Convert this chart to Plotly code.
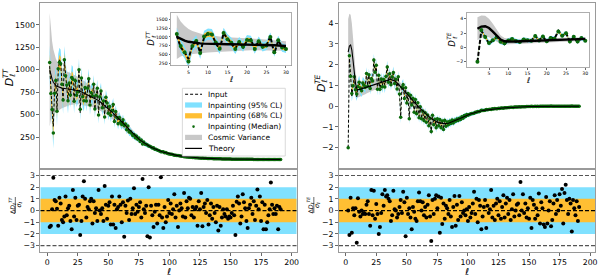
import plotly.graph_objects as go

W, H = 603, 277
FONT = "DejaVu Sans"
CYAN = "#80E1FF"
ORANGE = "#FFBF33"
GRAY = "#C8C8C8"
GREEN = "#0B6A0B"
SPINE = "#9A9A9A"

# ---------------- data ----------------
# TT theory, l = 2..191
tt_theory = [1000, 940, 895, 860, 840, 825, 815, 808, 802, 798,
             795, 793, 791, 789, 788, 787, 786, 785, 784, 783,
             781, 778, 775, 771, 766, 760, 753, 746, 739, 733,
             727, 721, 715, 709, 703, 697, 691, 684, 676, 667,
             657, 646, 635, 624, 613, 602, 591, 580, 568, 556,
             543, 530, 516, 502, 488, 474, 460, 446, 432, 417,
             402, 387, 372, 357, 342, 327, 313, 299, 286, 273,
             261, 249, 238, 227, 216, 206, 196, 187, 178, 169,
             161, 153, 145, 138, 131, 124, 118, 112, 106, 101,
             96, 91, 86, 82, 78, 74, 70, 66, 63,
             60, 57, 54, 51, 48, 46, 43, 41, 39, 37, 35, 33, 31.5, 30, 28.5, 27, 25.5, 24, 23, 22,
             21, 20, 19, 18, 17, 16.2, 15.4, 14.6, 13.9, 13.2, 12.5, 11.9, 11.3, 10.7, 10.1, 9.6, 9.1, 8.6, 8.2, 7.8,
             7.4, 7, 6.6, 6.3, 6, 5.7, 5.4, 5.1, 4.8, 4.6, 4.3, 4.1, 3.9, 3.7, 3.5, 3.3, 3.1, 2.9, 2.8, 2.6,
             2.5, 2.3, 2.2, 2.1, 2, 1.9, 1.8, 1.7, 1.6, 1.5, 1.4, 1.35, 1.3, 1.25, 1.2, 1.15, 1.1, 1.05, 1,
             0.95, 0.9, 0.86, 0.82, 0.78, 0.75, 0.72, 0.69, 0.66, 0.63, 0.6, 0.58]

# TT input, l = 2..100 (beyond that it sits on the theory curve)
tt_input_low = [1040, 700, 560, 370, 760, 900, 540, 980, 1110, 1080,
                820, 640, 1100, 960, 820, 660, 860, 700, 880, 930,
                640, 900, 700, 760, 1010, 520, 890, 720, 700, 820,
                640, 800, 900, 620, 760, 690, 850, 560, 720, 780,
                520, 700, 760, 580, 640, 500, 700, 620, 520, 600,
                480, 560, 600, 430, 520, 470, 400, 480, 420, 380,
                450, 360, 400, 330, 380, 300, 320, 290, 270, 290,
                240, 265, 225, 240, 205, 215, 185, 195, 170, 172,
                155, 158, 140, 142, 126, 128, 114, 115, 103, 102,
                94, 92, 84, 83, 76, 75, 69, 66, 62]

# TT inpainting 1-sigma
tt_sigma = [95, 92, 90, 88, 86, 85, 84, 82, 80, 79,
            78, 77, 76, 75, 74, 73, 72, 71, 70, 69,
            68, 67, 66, 65, 64, 63, 62, 61, 60, 59,
            58, 57, 56, 55, 54, 53, 52, 51, 50, 49,
            48, 47, 46, 45, 44, 43, 42, 41, 40, 39,
            38, 37, 36, 35, 34, 33, 32, 31, 30, 29,
            28, 27, 26, 25, 24, 23, 22, 21, 20, 19,
            17, 16.5, 16, 15.5, 15, 14.5, 14, 13.5, 13, 12.5,
            12, 11.5, 11, 10.6, 10.2, 9.8, 9.4, 9, 8.6, 8.2,
            7.9, 7.6, 7.3, 7, 6.7, 6.4, 6.1, 5.9, 5.7, 5.5,
            5.3, 5.1, 4.9, 4.7, 4.5, 4.3, 4.1, 3.9, 3.8, 3.6,
            3.5, 3.3, 3.2, 3.1, 3.0, 2.9, 2.8, 2.7, 2.6, 2.5,
            2.4, 2.3, 2.2, 2.1, 2.0, 1.95, 1.9, 1.85, 1.8, 1.75,
            1.7, 1.65, 1.6, 1.55, 1.5, 1.45, 1.4, 1.35, 1.3, 1.25,
            1.2, 1.15, 1.1, 1.05, 1.0, 0.97, 0.94, 0.91, 0.88, 0.85,
            0.82, 0.79, 0.76, 0.73, 0.7, 0.68, 0.66, 0.64, 0.62, 0.6,
            0.58, 0.56, 0.54, 0.52, 0.5, 0.48, 0.46, 0.44, 0.42, 0.4,
            0.39, 0.38, 0.37, 0.36, 0.35, 0.34, 0.33, 0.32, 0.31, 0.3,
            0.29, 0.28, 0.27, 0.26, 0.25, 0.24, 0.23, 0.22, 0.21, 0.2]

# TT normalised residuals
tt_resid = [-1.4, -1.3, 0.1, 2.8, 0.9, 0.8, 0.15, -1.3, 1.1, 0.6,
            -0.8, -1.0, -0.5, 1.2, -0.4, 0.2, 0.4, -0.9, -1.6, 1.75,
            -0.5, 1.1, -0.8, 0.4, 0.5, -2.1, -0.9, 1.2, 2.5, 1.0,
            -0.6, 0.3, 0.1, 0.8, 1.0, -1.1, 0.8, -0.2, 0.2, -0.9,
            1.75, 0.0, -0.3, 0.2, -0.9, 2.1, 0.5, -0.7, 0.4, 0.7,
            -1.2, 1.2, -1.2, 0.5, -1.5, 0.1, 0.3, 1.2, 0.5, -1.0,
            0.7, -2.25, 0.4, -0.2, 0.85, -0.8, 1.0, -0.3, 0.2, 1.9,
            -0.3, 0.5, -0.1, 0.3, 0.7, -0.6, 2.7, 0.1, -0.2, 0.4,
            -2.2, 2.0, -2.3, 0.4, -0.4, -1.4, -0.1, 0.5, -1.1, 0.5,
            -0.4, 2.85, -0.6, -1.5, 0.3, -1.0, -0.5, 0.9, -0.2, 0.6,
            -0.3, 0.1, 1.4, -0.6, 0.4, -1.4, 0.0, 0.6, 0.2, -0.5,
            1.5, -0.6, 0.8, 0.2, 1.1, 1.0, -0.4, 0.3, -0.6, 0.1,
            0.3, -1.3, 0.8, 0.1, 1.5, -1.35, 0.3, 0.6, -0.2, 0.9,
            -1.2, -0.4, 0.6, -0.7, 0.3, -0.2, -1.0, 0.4, -1.7, 0.3,
            -1.3, -0.6, 0.1, -0.3, -0.5, 0.1, -0.7, -0.5, -0.6, -0.2,
            0.4, -0.4, -2.1, 0.75, 1.2, 0.6, -1.1, -0.5, 1.4, 0.7,
            0.2, -0.9, -1.5, 0.2, 0.5, 1.1, -0.3, 0.8, -0.8, 0.4,
            1.8, 0.1, 1.2, -0.9, 0.7, -1.6, 0.5, -1.6, -1.0, -0.4,
            0.1, 2.4, 0.5, -0.3, 0.2, -0.3, 0.4, -1.6, 0.3, 0.1]

# TE theory, l = 2..191
te_theory = [2.6, 2.9, 2.95, 2.7, 2.2, 1.6, 1.1, 0.85, 0.8, 0.8,
             0.82, 0.84, 0.86, 0.88, 0.9, 0.92, 0.94, 0.96, 0.98, 1.0,
             1.02, 1.04, 1.06, 1.08, 1.1, 1.12, 1.14, 1.16, 1.18, 1.2,
             1.22, 1.24, 1.26, 1.27, 1.28, 1.28, 1.27, 1.25, 1.22, 1.18,
             1.13, 1.07, 1.0, 0.93, 0.86, 0.79, 0.72, 0.65, 0.58, 0.51,
             0.44, 0.37, 0.3, 0.24, 0.18, 0.12, 0.06, 0.0, -0.06, -0.12,
             -0.18, -0.24, -0.3, -0.35, -0.4, -0.45, -0.5, -0.55, -0.6, -0.64,
             -0.68, -0.71, -0.74, -0.77, -0.79, -0.81, -0.82, -0.83, -0.84, -0.84,
             -0.84, -0.83, -0.82, -0.8, -0.78, -0.76, -0.74, -0.72, -0.7, -0.67,
             -0.64, -0.61, -0.58, -0.55, -0.52, -0.49, -0.46, -0.44, -0.42,
             -0.4, -0.38, -0.36, -0.34, -0.32, -0.3, -0.28, -0.27, -0.25, -0.24,
             -0.22, -0.21, -0.2, -0.19, -0.18, -0.17, -0.16, -0.15, -0.14, -0.13,
             -0.125, -0.12, -0.115, -0.11, -0.105, -0.1, -0.095, -0.09, -0.085, -0.08,
             -0.075, -0.07, -0.065, -0.06, -0.056, -0.052, -0.048, -0.044, -0.04, -0.037,
             -0.034, -0.031, -0.028, -0.026, -0.024, -0.022, -0.02, -0.018, -0.016, -0.015,
             -0.014, -0.013, -0.012, -0.011, -0.01, -0.009, -0.008, -0.007, -0.006, -0.005,
             -0.004, -0.004, -0.003, -0.003, -0.002, -0.002, -0.002, -0.001, -0.001, -0.001,
             -0.001, -0.001, -0.001, 0, 0, 0, 0, 0, 0, 0, 0, 0, 0, 0, 0, 0, 0, 0, 0, 0, 0]

# TE input, l = 2..100
te_input_low = [-2.0, 2.3, 1.5, 0.5, 1.0, 1.4, 0.8, 0.45, 1.0, 1.15,
                0.85, 0.75, 1.1, 1.0, 0.9, 1.6, 1.0, 1.5, 0.8, 1.4,
                1.2, 2.3, 1.6, 2.0, 0.8, 1.4, 0.75, 1.3, 1.0, 1.3,
                1.0, 1.5, 1.95, 1.2, 1.6, 1.0, 1.4, 1.7, 1.1, 1.3,
                0.8, 1.4, 0.6, -0.5, 0.9, 1.1, 0.4, 0.8, 0.2, 0.6,
                -0.6, 0.5, 0.0, 0.4, -0.3, 0.3, -0.4, 0.2, -0.5, 0.0,
                -0.6, -0.2, -0.7, -0.3, -0.8, -0.4, -0.9, -0.6, -1.3, -0.4,
                -0.9, -0.6, -1.0, -0.6, -0.9, -0.7, -1.0, -0.75, -1.1, -0.7,
                -0.95, -0.75, -0.9, -0.7, -0.85, -0.7, -0.8, -0.65, -0.75, -0.6,
                -0.7, -0.55, -0.65, -0.5, -0.58, -0.45, -0.5, -0.4, -0.45]

te_sigma = [0.20, 0.20, 0.19, 0.19, 0.18, 0.18, 0.17, 0.17, 0.16, 0.16,
            0.16, 0.16, 0.15, 0.15, 0.15, 0.15, 0.15, 0.15, 0.15, 0.15,
            0.15, 0.15, 0.15, 0.15, 0.15, 0.15, 0.15, 0.15, 0.15, 0.15,
            0.15, 0.15, 0.15, 0.15, 0.15, 0.14, 0.14, 0.14, 0.14, 0.14,
            0.14, 0.14, 0.14, 0.14, 0.14, 0.14, 0.14, 0.14, 0.13, 0.13,
            0.13, 0.13, 0.13, 0.13, 0.13, 0.13, 0.13, 0.13, 0.12, 0.12,
            0.12, 0.12, 0.12, 0.12, 0.12, 0.12, 0.11, 0.11, 0.11, 0.11,
            0.11, 0.11, 0.11, 0.10, 0.10, 0.10, 0.10, 0.10, 0.10, 0.095,
            0.09, 0.09, 0.088, 0.086, 0.084, 0.082, 0.08, 0.078, 0.076, 0.074,
            0.072, 0.07, 0.068, 0.066, 0.064, 0.062, 0.06, 0.058, 0.056, 0.054,
            0.052, 0.05, 0.049, 0.048, 0.047, 0.046, 0.045, 0.044, 0.043, 0.042,
            0.041, 0.04, 0.039, 0.038, 0.037, 0.036, 0.035, 0.034, 0.033, 0.032,
            0.031, 0.03, 0.029, 0.028, 0.028, 0.027, 0.027, 0.026, 0.026, 0.025,
            0.025, 0.024, 0.024, 0.023, 0.023, 0.022, 0.022, 0.021, 0.021, 0.02,
            0.02, 0.02, 0.019, 0.019, 0.019, 0.018, 0.018, 0.018, 0.017, 0.017,
            0.017, 0.016, 0.016, 0.016, 0.015, 0.015, 0.015, 0.015, 0.014, 0.014,
            0.014, 0.014, 0.013, 0.013, 0.013, 0.013, 0.012, 0.012, 0.012, 0.012,
            0.012, 0.011, 0.011, 0.011, 0.011, 0.011, 0.01, 0.01, 0.01, 0.01,
            0.01, 0.01, 0.01, 0.01, 0.01, 0.01, 0.01, 0.01, 0.01, 0.01]

# TE cosmic-variance half width
te_cv = [1.6, 1.55, 1.45, 1.3, 1.1, 0.85, 0.6, 0.45, 0.4, 0.38,
         0.36, 0.35, 0.34, 0.33, 0.32, 0.31, 0.3, 0.29, 0.28, 0.28,
         0.27, 0.27, 0.26, 0.26, 0.25, 0.25, 0.25, 0.24, 0.24, 0.24,
         0.23, 0.23, 0.23, 0.22, 0.22, 0.22, 0.21, 0.21, 0.21, 0.2,
         0.2, 0.2, 0.19, 0.19, 0.18, 0.18, 0.18, 0.17, 0.17, 0.17,
         0.16, 0.16, 0.16, 0.15, 0.15, 0.15, 0.14, 0.14, 0.14, 0.14,
         0.13, 0.13, 0.13, 0.13, 0.12, 0.12, 0.12, 0.12, 0.11, 0.11,
         0.11, 0.11, 0.1, 0.1, 0.1, 0.1, 0.1, 0.09, 0.09, 0.09,
         0.09, 0.09, 0.085, 0.085, 0.08, 0.08, 0.08, 0.075, 0.075, 0.07,
         0.07, 0.07, 0.065, 0.065, 0.06, 0.06, 0.06, 0.055, 0.055, 0.05,
         0.05, 0.048, 0.046, 0.044, 0.042, 0.04, 0.038, 0.036, 0.035, 0.034,
         0.033, 0.032, 0.031, 0.03, 0.029, 0.028, 0.027, 0.026, 0.025, 0.024,
         0.023, 0.022, 0.021, 0.02, 0.019, 0.018, 0.018, 0.017, 0.017, 0.016,
         0.016, 0.015, 0.015, 0.014, 0.014, 0.013, 0.013, 0.012, 0.012, 0.011,
         0.011, 0.011, 0.01, 0.01, 0.01, 0.009, 0.009, 0.009, 0.008, 0.008,
         0.008, 0.008, 0.007, 0.007, 0.007, 0.007, 0.006, 0.006, 0.006, 0.006,
         0.006, 0.005, 0.005, 0.005, 0.005, 0.005, 0.005, 0.004, 0.004, 0.004,
         0.004, 0.004, 0.004, 0.004, 0.003, 0.003, 0.003, 0.003, 0.003, 0.003,
         0.003, 0.003, 0.003, 0.003, 0.003, 0.002, 0.002, 0.002, 0.002, 0.002]

te_resid = [0.0, -2.1, 1.1, -1.9, 0.2, -0.4, 0.2, -2.75, 1.05, -0.1,
            -0.5, 0.0, -0.3, -0.2, -0.3, 0.5, 0.8, -0.3, -1.3, 1.75,
            -0.4, 1.7, -0.7, 0.55, -0.3, -2.0, -1.4, -0.2, 1.4, 0.4,
            1.75, 1.2, 1.3, 1.0, 0.8, -0.9, -0.4, 1.7, 0.1, 0.0,
            -0.6, -0.3, 0.3, 0.9, -0.2, 1.6, 0.7, -2.2, 1.1, -0.3,
            0.2, -0.6, -1.6, 0.3, -0.1, -0.7, -0.9, 0.8, 1.55, 0.8,
            0.0, 0.7, -0.4, 0.3, -0.6, 0.5, 1.3, -0.5, -2.6, 0.9,
            -0.3, 1.0, 1.3, 0.2, 1.2, -1.9, 1.1, -1.15, 0.6, -0.7,
            0.4, 0.2, -0.3, 0.9, -0.5, -1.4, 0.3, 1.25, -1.3, 0.5,
            -0.8, 1.25, -0.5, 0.7, -0.2, 0.0, -0.4, 0.1, -0.9, 0.3,
            -0.6, -0.2, 0.6, 1.6, -0.3, 1.0, -1.0, 0.9, 0.4, -1.6,
            -0.5, 0.3, 0.9, -1.5, 0.4, -0.2, 0.1, 1.75, -0.6, 0.4,
            -0.8, 0.6, 1.0, -0.4, 0.8, -0.7, 0.3, 1.3, -0.6, 0.6,
            1.1, -0.3, 0.9, -0.8, 0.1, 1.4, -0.5, 0.0, 0.5, 0.6,
            -0.4, 2.45, 0.0, 1.4, -0.2, 0.6, -0.6, 0.2, -0.7, 1.1,
            -1.5, 0.9, 0.5, -0.7, 0.2, -0.4, 1.45, -1.1, 0.7, 0.2,
            -1.2, -1.4, 1.15, -1.1, 0.0, 0.8, -1.35, -0.8, 0.6, 1.3,
            -0.3, 0.9, 0.0, 1.4, 0.4, 1.85, -1.1, 1.5, 2.2, 0.9,
            -0.3, 1.0, 0.6, -1.8, 0.9, 0.2, -0.4, 0.8, -0.9, 0.3]

# share of the normalised residual that separates median from input on screen
median_offset_share = 0.3

x_ticks = [0, 25, 50, 75, 100, 125, 150, 175, 200]
tt_ticks = [250, 500, 750, 1000, 1250, 1500]
te_ticks = [-2, -1, 0, 1, 2, 3, 4]
res_ticks = [-3, -2, -1, 0, 1, 2, 3]
inset_x_ticks = [5, 10, 15, 20, 25, 30]
inset_te_ticks = [-2, 0, 2, 4]
legend_labels = ["Input", "Inpainting (95% CL)", "Inpainting (68% CL)",
                 "Inpainting (Median)", "Cosmic Variance", "Theory"]

# ---------------- derived series ----------------
n = min(len(tt_theory), len(tt_sigma), len(tt_resid), len(te_theory),
        len(te_sigma), len(te_cv), len(te_resid))
ell = list(range(2, 2 + n))
tt_input = (tt_input_low + tt_theory[len(tt_input_low):])[:n]
te_input = (te_input_low + te_theory[len(te_input_low):])[:n]
tt_theory = tt_theory[:n]
te_theory = te_theory[:n]
k = median_offset_share
tt_median = [i - k * r * s for i, r, s in zip(tt_input, tt_resid, tt_sigma)]
te_median = [i - k * r * s for i, r, s in zip(te_input, te_resid, te_sigma)]
# cosmic variance for TT: C_l * sqrt(2/(2l+1))
tt_cv = [t * (2.0 / (2 * l + 1)) ** 0.5 for t, l in zip(tt_theory, ell)]

fig = go.Figure()


def band(x, lo, hi):
    return list(x) + list(x)[::-1], list(hi) + list(lo)[::-1]


def add_spectrum(xa, ya, m, theory, inp, med, sig, cv, lw_in, lw_th, msize, dash):
    ls = ell[:m]
    xs, ys = band(ls, [t - c for t, c in zip(theory[:m], cv[:m])],
                  [t + c for t, c in zip(theory[:m], cv[:m])])
    fig.add_trace(go.Scatter(x=xs, y=ys, fill="toself", fillcolor=GRAY, mode="lines",
                             line=dict(width=0), xaxis=xa, yaxis=ya, hoverinfo="skip"))
    xs, ys = band(ls, [a - 2 * s for a, s in zip(med[:m], sig[:m])],
                  [a + 2 * s for a, s in zip(med[:m], sig[:m])])
    fig.add_trace(go.Scatter(x=xs, y=ys, fill="toself", fillcolor=CYAN, mode="lines",
                             line=dict(width=0), xaxis=xa, yaxis=ya, hoverinfo="skip"))
    xs, ys = band(ls, [a - s for a, s in zip(med[:m], sig[:m])],
                  [a + s for a, s in zip(med[:m], sig[:m])])
    fig.add_trace(go.Scatter(x=xs, y=ys, fill="toself", fillcolor=ORANGE, mode="lines",
                             line=dict(width=0), xaxis=xa, yaxis=ya, hoverinfo="skip"))
    fig.add_trace(go.Scatter(x=ls, y=inp[:m], mode="lines",
                             line=dict(color="black", width=lw_in, dash=dash),
                             xaxis=xa, yaxis=ya))
    fig.add_trace(go.Scatter(x=ls, y=med[:m], mode="markers",
                             marker=dict(color=GREEN, size=msize, line=dict(width=0)),
                             xaxis=xa, yaxis=ya))
    fig.add_trace(go.Scatter(x=ls, y=theory[:m], mode="lines",
                             line=dict(color="black", width=lw_th), xaxis=xa, yaxis=ya))


add_spectrum("x", "y", n, tt_theory, tt_input, tt_median, tt_sigma, tt_cv, 1.0, 1.1, 3.5, "3px,2px")
add_spectrum("x3", "y3", n, te_theory, te_input, te_median, te_sigma, te_cv, 1.0, 1.1, 3.5, "3px,2px")
m30 = 29
add_spectrum("x5", "y5", m30, tt_theory, tt_input, tt_median, tt_sigma, tt_cv, 2.0, 2.4, 4, "4px,2px")
add_spectrum("x6", "y6", m30, te_theory, te_input, te_median, te_sigma, te_cv, 2.0, 2.4, 4, "4px,2px")

fig.add_trace(go.Scatter(x=ell, y=tt_resid, mode="markers",
                         marker=dict(color="black", size=4), xaxis="x2", yaxis="y2"))
fig.add_trace(go.Scatter(x=ell, y=te_resid, mode="markers",
                         marker=dict(color="black", size=4), xaxis="x4", yaxis="y4"))


def px(x):
    return x / W


def py(y):
    return 1 - y / H


LX = [40.7, 298.0]
RX = [340.7, 598.0]
TOP = [3.0, 168.5]
BOT = [168.5, 252.0]

tick_font = dict(family=FONT, size=7.8, color="black")
small_font = dict(family=FONT, size=4.6, color="black")
common = dict(showline=True, mirror=True, linecolor=SPINE, linewidth=1, showgrid=False,
              zeroline=False, ticks="outside", ticklen=3, tickcolor="#444", tickwidth=0.8,
              tickfont=tick_font)
inset_common = dict(common, linewidth=0.8, ticklen=1.8, tickfont=small_font)

layout_axes = dict(
    xaxis=dict(common, domain=[px(LX[0]), px(LX[1])], range=[-5.5, 204], anchor="y",
               showticklabels=False, ticks=""),
    yaxis=dict(common, domain=[py(TOP[1]), py(TOP[0])], range=[-100, 1743], anchor="x",
               tickvals=tt_ticks),
    xaxis2=dict(common, domain=[px(LX[0]), px(LX[1])], range=[-5.5, 204], anchor="y2",
                tickvals=x_ticks),
    yaxis2=dict(common, domain=[py(BOT[1]), py(BOT[0])], range=[-3.55, 3.6], anchor="x2",
                tickvals=res_ticks),
    xaxis3=dict(common, domain=[px(RX[0]), px(RX[1])], range=[-5.5, 204], anchor="y3",
                showticklabels=False, ticks=""),
    yaxis3=dict(common, domain=[py(TOP[1]), py(TOP[0])], range=[-3.0, 4.97], anchor="x3",
                tickvals=te_ticks),
    xaxis4=dict(common, domain=[px(RX[0]), px(RX[1])], range=[-5.5, 204], anchor="y4",
                tickvals=x_ticks),
    yaxis4=dict(common, domain=[py(BOT[1]), py(BOT[0])], range=[-3.55, 3.6], anchor="x4",
                tickvals=res_ticks),
    xaxis5=dict(inset_common, domain=[px(172), px(292.5)], range=[0.55, 31.3], anchor="y5",
                tickvals=inset_x_ticks),
    yaxis5=dict(inset_common, domain=[py(65.5), py(13)], range=[180, 1685], anchor="x5",
                tickvals=tt_ticks),
    xaxis6=dict(inset_common, domain=[px(469), px(591.7)], range=[-0.8, 30.9], anchor="y6",
                tickvals=inset_x_ticks),
    yaxis6=dict(inset_common, domain=[py(67), py(13)], range=[-2.73, 4.79], anchor="x6",
                tickvals=inset_te_ticks),
)

shapes = []
for xa, ya in [("x2", "y2"), ("x4", "y4")]:
    shapes.append(dict(type="rect", xref=f"{xa} domain", yref=ya, x0=0, x1=1, y0=-2, y1=2,
                       fillcolor=CYAN, line=dict(width=0), layer="below"))
    shapes.append(dict(type="rect", xref=f"{xa} domain", yref=ya, x0=0, x1=1, y0=-1, y1=1,
                       fillcolor=ORANGE, line=dict(width=0), layer="below"))
    shapes.append(dict(type="line", xref=f"{xa} domain", yref=ya, x0=0, x1=1, y0=0, y1=0,
                       line=dict(color="black", width=1.2, dash="4px,2px"), layer="below"))
    for v in (-3, 3):
        shapes.append(dict(type="line", xref=f"{xa} domain", yref=ya, x0=0, x1=1, y0=v, y1=v,
                           line=dict(color="#555555", width=1.2, dash="4px,2px"), layer="below"))

annotations = []


def ann(x, y, text, size, angle=0, xanchor="center", yanchor="middle"):
    annotations.append(dict(x=px(x), y=py(y), xref="paper", yref="paper", text=text,
                            showarrow=False, textangle=angle, xanchor=xanchor,
                            yanchor=yanchor, borderpad=0,
                            font=dict(family=FONT, size=size, color="black")))


def d_label(xc, yc, sup, s):
    ss = s * 0.68
    ann(xc, yc, "<i>D</i>", s, -90)
    ann(xc - 0.33 * s, yc - 0.39 * s - 0.62 * ss * len(sup) / 2 - 0.4, f"<i>{sup}</i>", ss, -90)
    ann(xc + 0.36 * s, yc - 0.39 * s - 0.28 * ss, "<i>ℓ</i>", ss, -90)


d_label(9.2, 82, "TT", 11)
d_label(322.5, 88, "TE", 11)
d_label(151.5, 42, "TT", 8.5)
d_label(454.0, 43, "TE", 8.5)

# residual fraction labels
for x0, sup in [(0, "TT"), (300, "TE")]:
    ann(x0 + 12.0, 205, f"Δ<i>D</i><sub><i>ℓ</i></sub><sup><i>{sup}</i></sup>", 6.3, -90)
    ann(x0 + 18.6, 205, "<i>σ</i><sub><i>ℓ</i></sub>", 6.3, -90)
    shapes.append(dict(type="line", xref="paper", yref="paper", x0=px(x0 + 15.4), x1=px(x0 + 15.4),
                       y0=py(197), y1=py(213), line=dict(color="black", width=0.6)))

# x labels
ann((LX[0] + LX[1]) / 2, 271.5, "<i>ℓ</i>", 9.5)
ann((RX[0] + RX[1]) / 2, 271.5, "<i>ℓ</i>", 9.5)
ann((172 + 292.5) / 2, 79.5, "<i>ℓ</i>", 8)
ann((469 + 591.7) / 2, 80, "<i>ℓ</i>", 8)

# manual legend
shapes.append(dict(type="rect", xref="paper", yref="paper", x0=px(183.3), x1=px(286.7),
                   y0=py(156), y1=py(88.3), fillcolor="white",
                   line=dict(color="#D0D0D0", width=0.8), layer="above"))
rows = [94.2, 105.0, 115.8, 126.6, 137.4, 148.4]
hx0, hx1 = 186.0, 203.0
shapes.append(dict(type="line", xref="paper", yref="paper", x0=px(hx0), x1=px(hx1),
                   y0=py(rows[0]), y1=py(rows[0]), line=dict(color="black", width=1.1, dash="3px,2px"),
                   layer="above"))
for r, col in [(rows[1], CYAN), (rows[2], ORANGE), (rows[4], GRAY)]:
    shapes.append(dict(type="rect", xref="paper", yref="paper", x0=px(hx0), x1=px(hx1),
                       y0=py(r + 2.6), y1=py(r - 2.6), fillcolor=col, line=dict(width=0),
                       layer="above"))
shapes.append(dict(type="circle", xref="paper", yref="paper", x0=px(193.2), x1=px(195.8),
                   y0=py(rows[3] + 1.3), y1=py(rows[3] - 1.3), fillcolor=GREEN,
                   line=dict(width=0), layer="above"))
shapes.append(dict(type="line", xref="paper", yref="paper", x0=px(hx0), x1=px(hx1),
                   y0=py(rows[5]), y1=py(rows[5]), line=dict(color="black", width=1.2),
                   layer="above"))
for r, lab in zip(rows, legend_labels):
    ann(208.0, r, lab, 7.5, 0, "left", "middle")

fig.update_layout(width=W, height=H, margin=dict(l=0, r=0, t=0, b=0),
                  paper_bgcolor="white", plot_bgcolor="white", showlegend=False,
                  hovermode=False, shapes=shapes, annotations=annotations, **layout_axes)

fig.write_html("out.html", config={"displayModeBar": False, "staticPlot": True},
               post_script="document.body.style.margin='0';document.body.style.overflow='hidden';")
